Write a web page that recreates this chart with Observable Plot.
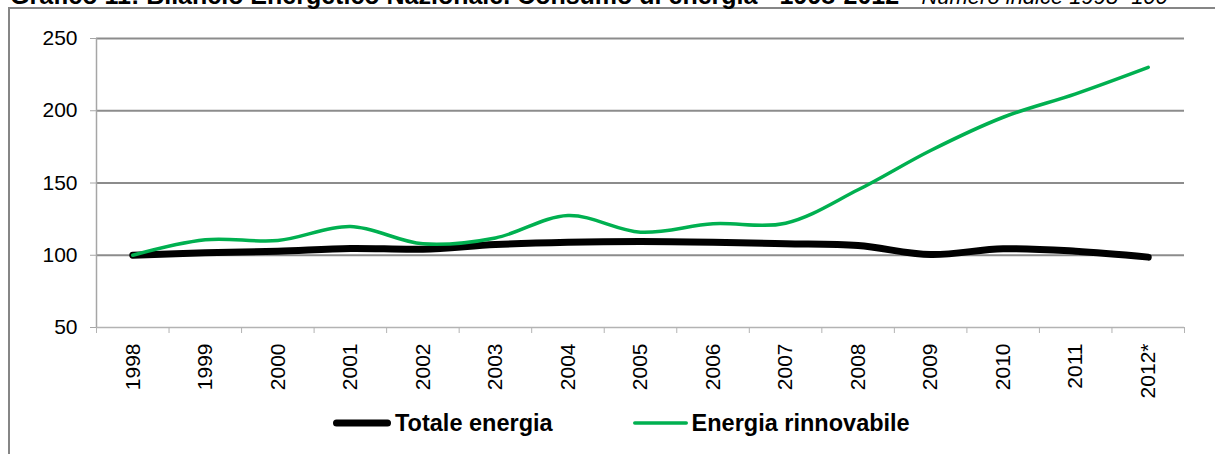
<!DOCTYPE html>
<html>
<head>
<meta charset="utf-8">
<script src="https://cdn.jsdelivr.net/npm/d3@7"></script>
<script src="https://cdn.jsdelivr.net/npm/@observablehq/plot@0.6"></script>
<style>
  html, body { margin: 0; padding: 0; background: #fff; overflow: hidden; }
  body { width: 1215px; height: 454px; position: relative; font-family: "Liberation Sans", Arial, sans-serif; }
  #frame { position: absolute; left: 8px; top: 7px; width: 1400px; height: 600px;
           border-top: 2px solid #868686; border-left: 2px solid #868686; }
  #title { position: absolute; left: 10px; top: -18px; white-space: nowrap;
           font-size: 25px; line-height: 26px; font-weight: bold; color: #000; }
  #title i { font-weight: normal; font-size: 22px; }
  #chart { position: absolute; left: 0; top: 0; }
  #legend { position: absolute; left: 333px; top: 411px; display: flex; align-items: center;
            font-size: 23.5px; line-height: 24px; font-weight: bold; color: #000; }
  .item { display: flex; align-items: center; }
  .item svg { display: block; margin-right: 4px; }
</style>
</head>
<body>
<div id="frame"></div>
<div id="title">Grafico 11: Bilancio Energetico Nazionale. Consumo di energia - 1998-2012 - <i>Numero indice 1998=100</i></div>
<div id="chart"></div>
<div id="legend"></div>
<script>
const years = ["1998","1999","2000","2001","2002","2003","2004","2005","2006","2007","2008","2009","2010","2011","2012*"];
const totale = [100, 101.7, 102.8, 104.7, 104.2, 107.4, 109, 109.5, 109, 108, 106.7, 100.5, 104.5, 102.8, 98.7];
const rinnovabile = [100, 110.7, 110.2, 119.9, 107.9, 112, 127.5, 116, 121.8, 122.2, 145.3, 172.5, 195.5, 211.7, 230];
const seriesNames = ["Totale energia", "Energia rinnovabile"];
const seriesColors = ["#000000", "#00b050"];
const seriesWidths = [7, 3.5];
const yTicks = [50, 100, 150, 200, 250];

const idx = years.map((_, i) => i);
const boundaries = d3.range(years.length + 1).map(k => k - 0.5);
const dataTot = idx.map(i => ({i, v: totale[i]}));
const dataRin = idx.map(i => ({i, v: rinnovabile[i]}));

const W = 1215, H = 400;
const chart = Plot.plot({
  width: W, height: H,
  marginLeft: 96, marginRight: 31, marginTop: 38, marginBottom: H - 327,
  style: {fontFamily: "'Liberation Sans', Arial, sans-serif", background: "transparent", color: "#000", overflow: "visible"},
  x: {type: "linear", domain: [boundaries[0], boundaries[boundaries.length - 1]]},
  y: {domain: [yTicks[0], yTicks[yTicks.length - 1]]},
  marks: [
    Plot.gridY(yTicks.slice(1), {stroke: "#8c8c8c", strokeOpacity: 1, strokeWidth: 2}),
    Plot.ruleY([yTicks[0]], {stroke: "#b3b3b3", strokeWidth: 1.5}),
    Plot.ruleX([boundaries[0]], {stroke: "#a6a6a6", strokeWidth: 1.5}),
    Plot.axisY({ticks: yTicks, tickSize: 6, tickPadding: 13, fontSize: 21, stroke: "#a6a6a6", fill: "#000", label: null}),
    Plot.axisX({ticks: boundaries, tickSize: 6, tickFormat: () => "", stroke: "#b3b3b3", label: null}),
    Plot.axisX({ticks: idx, tickSize: 0, tickPadding: 16, tickRotate: -90, tickFormat: i => years[i], fontSize: 21, fill: "#000", label: null}),
    Plot.line(dataTot, {x: "i", y: "v", stroke: seriesColors[0], strokeWidth: seriesWidths[0], curve: "catmull-rom", strokeLinecap: "round", strokeLinejoin: "round"}),
    Plot.line(dataRin, {x: "i", y: "v", stroke: seriesColors[1], strokeWidth: seriesWidths[1], curve: "catmull-rom", strokeLinecap: "round", strokeLinejoin: "round"})
  ]
});
document.getElementById("chart").appendChild(chart);

const legend = document.getElementById("legend");
const swatchW = [58, 55];
seriesNames.forEach((name, k) => {
  const item = document.createElement("div");
  item.className = "item";
  if (k > 0) item.style.marginLeft = "80px";
  const sw = swatchW[k];
  item.innerHTML = `<svg width="${sw}" height="12"><line x1="${seriesWidths[k]/2}" x2="${sw - seriesWidths[k]/2}" y1="6" y2="6" stroke="${seriesColors[k]}" stroke-width="${seriesWidths[k]}" stroke-linecap="round"/></svg><span>${name}</span>`;
  legend.appendChild(item);
});
</script>
</body>
</html>
